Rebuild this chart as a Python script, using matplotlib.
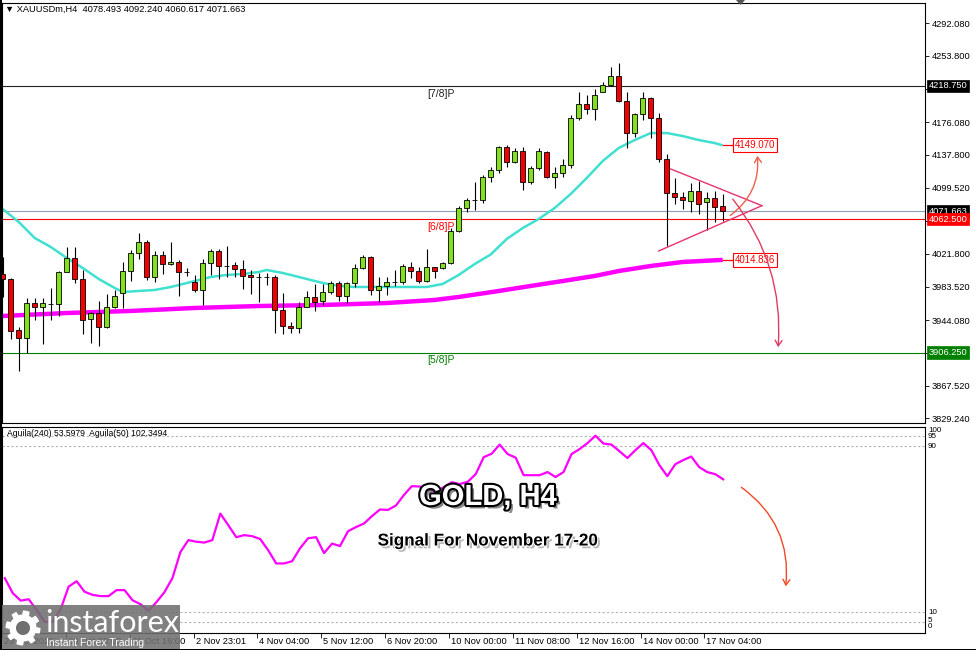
import numpy as np
import matplotlib
matplotlib.use('Agg')
import matplotlib.pyplot as plt
import matplotlib.patheffects as pe
from matplotlib.patches import Rectangle, Polygon, FancyArrowPatch

plt.rcParams['font.family'] = ['Liberation Sans', 'DejaVu Sans']

## DATA (H4 candles)
opens = [3998.3, 3992.5, 3932.7, 3923.3, 3964.3, 3959.7, 3963.2, 3963.2, 4000.7, 4017.1,
         3992.5, 3945.6, 3952.6, 3936.2, 3959.7, 3976.1, 4001.8, 4022.9, 4035.8, 3994.8,
         4020.6, 4010.0, 4012.4, 4000.7, 3989.0, 3979.6, 4011.2, 4025.3, 4007.7, 4008.9,
         4004.2, 3997.2, 3994.8, 3994.8, 3994.8, 3956.1, 3937.4, 3935.1, 3959.7, 3971.4,
         3966.7, 3977.2, 3987.8, 3972.5, 3987.8, 4005.4, 4018.3, 3979.6, 3984.3, 3989.0,
         3989.0, 4006.5, 4001.8, 3990.1, 4006.5, 4005.4, 4011.2, 4048.7, 4075.7, 4085.0,
         4085.0, 4112.0, 4120.2, 4147.1, 4129.6, 4142.5, 4106.1, 4122.5, 4141.3, 4112.0,
         4116.7, 4126.0, 4181.1, 4197.5, 4191.7, 4211.6, 4219.8, 4230.3, 4201.1, 4163.5,
         4185.8, 4204.6, 4181.1, 4133.1, 4093.2, 4088.6, 4083.9, 4095.6, 4082.7, 4087.4,
         4078.493]
highs = [4018.3, 3993.6, 3936.2, 3970.2, 3970.2, 3970.2, 3981.9, 4001.8, 4030.0, 4030.0,
         4003.0, 3953.8, 3966.7, 3974.9, 3979.6, 4012.4, 4026.5, 4046.4, 4038.2, 4025.3,
         4025.3, 4035.8, 4014.7, 4005.4, 3997.2, 4015.9, 4027.6, 4027.6, 4031.1, 4012.4,
         4014.7, 4003.0, 3999.5, 3999.5, 3997.2, 3976.1, 3942.1, 3965.5, 3978.4, 3986.6,
         3986.6, 3990.1, 3990.1, 3989.0, 4010.0, 4020.6, 4019.4, 3994.8, 3994.8, 4003.0,
         4010.0, 4012.4, 4006.5, 4027.6, 4006.5, 4012.4, 4052.2, 4078.0, 4087.4, 4106.1,
         4114.3, 4123.7, 4148.3, 4149.5, 4146.0, 4147.1, 4124.9, 4146.0, 4142.5, 4123.7,
         4133.1, 4184.6, 4211.6, 4208.1, 4215.1, 4223.3, 4240.9, 4245.6, 4211.6, 4187.0,
         4211.6, 4205.7, 4187.0, 4138.9, 4110.8, 4094.4, 4105.0, 4107.3, 4094.4, 4095.6,
         4092.240]
lows = [3971.4, 3922.2, 3884.7, 3905.8, 3944.4, 3916.3, 3944.4, 3949.1, 4000.7, 3987.8,
        3928.0, 3917.5, 3914.0, 3935.1, 3958.5, 3958.5, 3990.1, 4015.9, 3991.3, 3989.0,
        3998.3, 4008.9, 3972.5, 3996.0, 3977.2, 3962.0, 3997.2, 3992.5, 3994.8, 3994.8,
        3980.8, 3974.9, 3965.5, 3985.4, 3929.2, 3928.0, 3929.2, 3929.2, 3959.7, 3955.0,
        3962.0, 3974.9, 3966.7, 3964.3, 3983.1, 4004.2, 3973.7, 3965.5, 3973.7, 3984.3,
        3986.6, 3993.6, 3987.8, 3989.0, 3993.6, 4004.2, 4010.0, 4047.5, 4071.0, 4073.3,
        4081.5, 4106.1, 4116.7, 4123.7, 4128.4, 4096.8, 4103.8, 4120.2, 4110.8, 4099.1,
        4112.0, 4122.5, 4178.8, 4185.8, 4178.8, 4211.6, 4218.6, 4199.9, 4146.0, 4158.9,
        4178.8, 4157.7, 4129.6, 4031.1, 4080.4, 4074.5, 4071.0, 4068.6, 4049.9, 4059.3,
        4060.617]
closes = [3992.5, 3931.5, 3923.3, 3964.3, 3959.7, 3964.3, 3963.2, 4000.7, 4017.1, 3992.5,
          3944.4, 3952.6, 3936.2, 3959.7, 3972.5, 4001.8, 4022.9, 4035.8, 3994.8, 4020.6,
          4010.0, 4012.4, 4000.7, 4000.7, 3979.6, 4011.2, 4025.3, 4007.7, 4007.7, 4004.2,
          3996.0, 3994.8, 3994.8, 3994.8, 3956.1, 3937.4, 3935.1, 3959.7, 3971.4, 3965.5,
          3977.2, 3987.8, 3972.5, 3987.8, 4005.4, 4018.3, 3979.6, 3984.3, 3989.0, 3989.0,
          4007.7, 4001.8, 3990.1, 4006.5, 4001.8, 4011.2, 4048.7, 4075.7, 4085.0, 4085.0,
          4112.0, 4120.2, 4147.1, 4129.6, 4142.5, 4106.1, 4122.5, 4142.5, 4112.0, 4116.7,
          4126.0, 4181.1, 4197.5, 4191.7, 4208.1, 4219.8, 4230.3, 4201.1, 4163.5, 4185.8,
          4204.6, 4181.1, 4133.1, 4093.2, 4088.6, 4085.0, 4095.6, 4080.4, 4087.4, 4076.8,
          4071.663]

# fast MA (cyan) and slow MA (magenta), read at some candles
fast_idx = [0, 2, 4, 6, 8, 10, 12, 14, 15, 17, 19, 21, 22, 24, 26, 28, 30, 32, 33, 35,
            36, 38, 40, 42, 44, 48, 53, 55, 57, 59, 61, 63, 65, 67, 69, 71, 73, 75, 77, 79,
            81, 83, 85, 87, 89, 90]
fast_val = [4074.5, 4059.3, 4040.5, 4030.0, 4017.1, 4005.4, 3992.5, 3981.9, 3977.2, 3978.4,
            3979.6, 3983.1, 3985.4, 3990.1, 3994.8, 3997.2, 3998.3, 4000.7, 4003.0, 3999.5,
            3997.2, 3992.5, 3987.8, 3984.3, 3983.1, 3983.1, 3983.1, 3986.6, 3997.2, 4010.0,
            4021.2, 4039.3, 4052.2, 4062.8, 4075.7, 4092.1, 4110.8, 4130.7, 4146.0, 4155.3,
            4163.5, 4163.5, 4160.0, 4155.3, 4151.8, 4149.07]
slow_idx = [0, 8, 16, 24, 32, 40, 48, 54, 57, 62, 66, 70, 74, 77, 81, 85, 90]
slow_val = [3949.1, 3952.6, 3955.0, 3958.5, 3960.8, 3962.0, 3964.3, 3967.9, 3971.4, 3978.4,
            3984.3, 3990.1, 3996.0, 4001.8, 4007.7, 4012.4, 4014.836]

# Aguila oscillator
aguila = [26.3, 19.0, 15.4, 16.1, 10.8, 5.2, 5.2, 11.3, 22.2, 24.8,
          19.7, 18.2, 17.6, 17.6, 20.5, 20.5, 15.6, 13.7, 10.5, 14.7,
          19.5, 26.3, 38.9, 44.7, 43.9, 43.5, 44.7, 57.5, 51.9, 46.1,
          47.1, 46.6, 45.2, 39.8, 33.4, 33.4, 34.5, 40.8, 45.6, 46.1,
          38.4, 43.0, 41.8, 49.0, 51.0, 52.7, 56.3, 59.5, 59.3, 61.4,
          66.5, 70.8, 70.6, 69.4, 68.1, 70.3, 72.7, 71.8, 72.9, 76.6,
          84.8, 86.5, 90.9, 86.3, 84.6, 76.1, 76.1, 76.1, 77.6, 75.2,
          77.6, 86.3, 88.7, 91.6, 95.2, 91.4, 90.9, 87.7, 84.4, 88.2,
          91.6, 88.2, 81.0, 75.6, 81.4, 83.4, 85.1, 80.0, 77.6, 76.6,
          74.1]

price_ticks = [4292.080, 4253.800, 4214.940, 4176.080, 4137.800, 4099.520, 4060.660,
               4021.800, 3983.520, 3944.080, 3905.800, 3867.520, 3829.240]
hidden_ticks = [4214.940, 4060.660, 3905.800]   # covered by the level boxes
date_idx = [0, 8, 16, 24, 32, 40, 48, 56, 64, 72, 80, 88]
date_lbl = ['29 Oct 2025', '30 Oct 08:00', '31 Oct 16:00', '2 Nov 23:01', '4 Nov 04:00',
            '5 Nov 12:00', '6 Nov 20:00', '10 Nov 00:00', '11 Nov 08:00', '12 Nov 16:00',
            '14 Nov 00:00', '17 Nov 04:00']
murrey = [(4218.750, '[7/8]P', '#222222'), (4062.500, '[6/8]P', '#ff0000'),
          (3906.250, '[5/8]P', '#008000')]
last_price = 4071.663


## FIGURE
W, H = 976, 650
def fx(px): return px / W
def fy(py): return 1 - py / H

fig = plt.figure(figsize=(W / 100, H / 100), dpi=100, facecolor='white')
ax = fig.add_axes([fx(2), fy(423), 923 / W, 420 / H])
ax_ind = fig.add_axes([fx(2), fy(632.5), 923 / W, 205.5 / H])
xlim = (-0.09, -0.09 + 923 / 8)
fs = 6.7

o, h, l, c = map(np.array, (opens, highs, lows, closes))
x = np.arange(len(c))

## main panel
ax.set_xlim(xlim)
ax.set_ylim(3823.7, 4315.9)
for lv, name, col in murrey:
    ax.axhline(lv, color=col, lw=0.8, zorder=1)
ax.axhline(last_price, color='#8fa0b4', lw=0.8, zorder=1)

ax.plot(fast_idx, fast_val, color='#40e0d0', lw=1.8, zorder=2, solid_capstyle='butt')
ax.plot(slow_idx, slow_val, color='#ff00ff', lw=3.2, zorder=2, solid_capstyle='butt')

ax.vlines(x, l, h, color='black', lw=0.8, zorder=3)
body_col = np.where(c >= o, '#84e01c', '#f00000')
ax.bar(x, np.abs(c - o), bottom=np.minimum(o, c), width=0.62, color=body_col,
       edgecolor='black', linewidth=0.6, zorder=4)

# level names
for (lv, name, col), ty in zip(murrey, [4215.7, 4059.8, 3903.4]):
    ax.text(56.5, ty, name, color=col, fontsize=7.5, ha='right', va='top', zorder=5)

# price axis
ax.yaxis.tick_right()
ax.set_yticks(price_ticks)
ax.set_yticklabels(['' if v in hidden_ticks else '%.3f' % v for v in price_ticks], fontsize=fs)
ax.tick_params(axis='y', length=3, width=0.6, pad=2)
ax.set_xticks([])
for sp in ax.spines.values():
    sp.set_linewidth(0.8)

def axis_box(price, txt, fc, z):
    ax.text(1 + 3.5 / 923, price, txt, transform=ax.get_yaxis_transform(), fontsize=fs,
            color='white', ha='left', va='center', clip_on=False, zorder=z,
            bbox=dict(boxstyle='square,pad=0.18', fc=fc, ec=fc, lw=0.5))

axis_box(4218.750, '4218.750', 'black', 10)
axis_box(last_price, '4071.663', 'black', 10)
axis_box(4062.500, '4062.500', '#ff0000', 11)
axis_box(3906.250, '3906.250', '#008000', 10)

# MA value tags
for v, txt in [(fast_val[-1], '4149.070'), (slow_val[-1], '4014.836')]:
    ax.plot([90, 91.3], [v, v], color='#ff0000', lw=0.9, zorder=5)
    ax.text(91.5, v, txt, fontsize=fs + 0.3, color='#ff0000', ha='left', va='center', zorder=6,
            bbox=dict(boxstyle='square,pad=0.2', fc='white', ec='#ff0000', lw=0.8))

# triangle and arrows
tri_col = '#e8336b'
ax.plot([83.5, 94.9], [4121.4, 4078.4], color=tri_col, lw=1.0, zorder=6)
ax.plot([82.0, 94.9], [4025.3, 4078.4], color=tri_col, lw=1.0, zorder=6)
ax.add_patch(FancyArrowPatch((90.66, 4065.1), (94.3, 4140.1), connectionstyle='arc3,rad=0.3',
                             arrowstyle='->,head_length=4,head_width=2.5', color='#f0604a',
                             lw=1.0, zorder=7))
ax.add_patch(FancyArrowPatch((91.04, 4088.6), (96.9, 3909.3), connectionstyle='arc3,rad=-0.2',
                             arrowstyle='->,head_length=4,head_width=2.5', color='#e23a62',
                             lw=1.0, zorder=7))

## indicator panel
ax_ind.set_xlim(xlim)
ax_ind.set_ylim(0, 99.4)
for lv in [95, 90, 10, 5]:
    ax_ind.axhline(lv, color='#b4b4b4', lw=0.8, ls=(0, (2, 2)), zorder=1)
ax_ind.plot(x, aguila, color='#ff00ff', lw=1.6, zorder=3)
ax_ind.set_yticks([])
ax_ind.set_xticks(np.array(date_idx) - 0.35)
ax_ind.set_xticklabels([])
ax_ind.tick_params(axis='x', length=3.5, width=0.6)
for sp in ax_ind.spines.values():
    sp.set_linewidth(0.8)
for i, lbl in zip(date_idx, date_lbl):
    ax_ind.text(i - 0.1, -8.5 / 205.5, lbl, transform=ax_ind.get_xaxis_transform(),
                fontsize=fs, ha='left', va='center', clip_on=False)
ax_ind.add_patch(FancyArrowPatch((92.0, 71.0), (97.8, 21.0), connectionstyle='arc3,rad=-0.3',
                                 arrowstyle='->,head_length=4,head_width=2.5', color='#f04828',
                                 lw=1.0, zorder=7))
ax_ind.text(5 / 923, 1 - 6 / 205.5, 'Aguila(240) 53.5979  Aguila(50) 102.3494',
            transform=ax_ind.transAxes, fontsize=6.2, ha='left', va='center')
for txt, py in [('100', 431), ('95', 437), ('90', 447), ('10', 612), ('5', 620), ('0', 627)]:
    fig.text(fx(928), fy(py), txt, fontsize=5.8, ha='left', va='center')

## texts over the chart
fig.text(fx(5), fy(9), '\u25bc XAUUSDm,H4  4078.493 4092.240 4060.617 4071.663',
         fontsize=fs, ha='left', va='center')
fig.add_artist(Polygon([(fx(736), fy(0)), (fx(745), fy(0)), (fx(740.5), fy(5))],
                       closed=True, transform=fig.transFigure, fc='#555555', ec='none'))

fig.text(fx(488), fy(497), 'GOLD, H4', fontsize=21, fontweight='bold', color='white',
         ha='center', va='center', zorder=20,
         path_effects=[pe.SimplePatchShadow(offset=(2.5, -2.5), shadow_rgbFace='#555555', alpha=0.7),
                       pe.Stroke(linewidth=3, foreground='black'), pe.Normal()])
fig.text(fx(488), fy(541), 'Signal For November 17-20', fontsize=12.3, fontweight='bold',
         color='black', ha='center', va='center', zorder=20,
         path_effects=[pe.SimplePatchShadow(offset=(2, -2), shadow_rgbFace='#888888', alpha=0.6),
                       pe.Stroke(linewidth=1.5, foreground='white'), pe.Normal()])

# logo
fig.add_artist(Rectangle((0, fy(650)), fx(180), 45 / H, transform=fig.transFigure,
                         fc='#707070', ec='none', alpha=0.88, zorder=15))
ang = np.linspace(0, 2 * np.pi, 97)
rad = np.where((np.floor(ang / (2 * np.pi / 16)) % 2) == 0, 17.5, 13.5)
gx = 23 + rad * np.cos(ang)
gy = 628 + rad * np.sin(ang)
fig.add_artist(Polygon(np.column_stack([fx(gx), fy(gy)]), closed=True, transform=fig.transFigure,
                       fc='white', ec='none', zorder=16))
fig.add_artist(Polygon(np.column_stack([fx(23 + 7 * np.cos(ang)), fy(628 + 7 * np.sin(ang))]),
                       closed=True, transform=fig.transFigure, fc='#707070', ec='none', zorder=17))
fig.text(fx(45), fy(632), 'instaforex', fontsize=22, color='white', ha='left', va='baseline',
         family='Lato', zorder=18)
fig.text(fx(46), fy(643.5), 'Instant Forex Trading', fontsize=7.5, color='white', ha='left',
         va='center', zorder=18)

# frame
fig.add_artist(Rectangle((0, 0), fx(2), 1, transform=fig.transFigure, fc='black', ec='none', zorder=19))
fig.add_artist(Rectangle((0, 0), 1, 1.5 / H, transform=fig.transFigure, fc='black', ec='none', zorder=19))

fig.savefig('out.png', dpi=100, facecolor='white')
